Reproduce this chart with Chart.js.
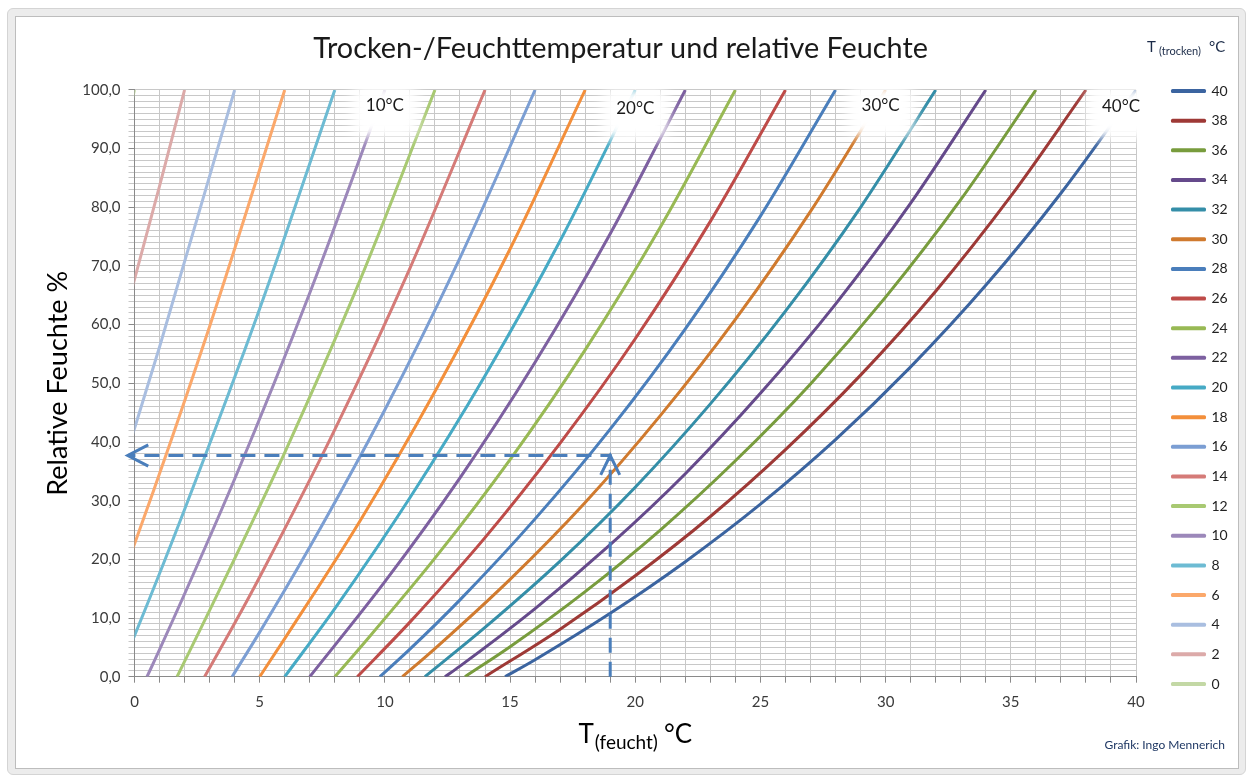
<!DOCTYPE html>
<html lang="de">
<head>
<meta charset="utf-8">
<title>Trocken-/Feuchttemperatur und relative Feuchte</title>
<script src="https://cdn.jsdelivr.net/npm/chart.js@4.4.1/dist/chart.umd.min.js"></script>
<style>
  html, body { margin: 0; padding: 0; background: #fff; }
  #frame {
    position: absolute; left: 7px; top: 8px; width: 1239px; height: 767px;
    box-sizing: border-box; background: #ececec; border: 1px solid #d4d4d4; border-radius: 6px;
  }
  #plot {
    position: absolute; left: 15px; top: 16px; width: 1224px; height: 753px;
    box-sizing: border-box; border: 1px solid #bdbdbd; background: #fff;
  }
  #box { position: relative; width: 1222px; height: 751px; }
</style>
</head>
<body>
<div id="frame"></div>
<div id="plot"><div id="box"><canvas id="chart"></canvas></div></div>
<script>
// dry-bulb temperatures, one curve each (legend order)
const dryTemps = [40, 38, 36, 34, 32, 30, 28, 26, 24, 22, 20, 18, 16, 14, 12, 10, 8, 6, 4, 2, 0];

// wet-bulb temperature (x) along each curve
const wetTemps = [
  [14.8, 16, 19, 22, 25, 28, 31, 34, 37, 40],
  [14.0, 17, 20, 23, 26, 29, 32, 35, 38],
  [13.2, 15, 18, 21, 24, 27, 30, 33, 36],
  [12.4, 13, 16, 19, 22, 25, 28, 31, 34],
  [11.6, 14, 17, 20, 23, 26, 29, 32],
  [10.7, 12, 15, 18, 21, 24, 27, 30],
  [9.8, 11, 13, 16, 19, 22, 25, 28],
  [8.9, 11, 14, 17, 20, 23, 26],
  [8.0, 9, 12, 15, 18, 21, 24],
  [7.0, 10, 13, 16, 19, 22],
  [6.0, 8, 11, 14, 17, 20],
  [5.0, 6, 9, 12, 15, 18],
  [3.9, 5, 7, 10, 13, 16],
  [2.8, 4, 5, 8, 11, 14],
  [1.7, 3, 6, 9, 12],
  [0.5, 1, 4, 7, 10],
  [-0.7, 0, 2, 5, 8],
  [-2.0, 0, 3, 6],
  [-3.2, -2, 0, 1, 4],
  [-4.5, -4, -1, 0, 1, 2],
  [-5.9, -3, 0]
];

// relative humidity (y) at those points
const humidity = [
  [0, 2.9, 10.8, 19.6, 29.4, 40.4, 52.8, 66.7, 82.4, 100],
  [0, 8.1, 17.2, 27.3, 38.7, 51.4, 65.7, 81.9, 100],
  [0, 5.1, 14.5, 25.0, 36.8, 49.9, 64.7, 81.3, 100],
  [0, 1.8, 11.6, 22.5, 34.6, 48.3, 63.5, 80.7, 100],
  [0, 8.4, 19.7, 32.3, 46.5, 62.3, 80.0, 100],
  [0, 4.8, 16.6, 29.7, 44.5, 60.9, 79.3, 100],
  [0, 4.7, 13.1, 26.9, 42.2, 59.3, 78.5, 100],
  [0, 9.3, 23.7, 39.8, 57.6, 77.6, 100],
  [0, 4.9, 20.2, 37.0, 55.7, 76.6, 100],
  [0, 16.2, 33.9, 53.6, 75.5, 100],
  [0, 11.6, 30.5, 51.3, 74.3, 100],
  [0, 6.5, 26.5, 48.6, 72.9, 100],
  [0, 7.6, 22.1, 45.5, 71.4, 100],
  [0, 9.1, 17.0, 42.1, 69.6, 100],
  [0, 11.3, 38.2, 67.5, 100],
  [0, 4.6, 33.7, 65.4, 100],
  [0, 7.0, 28.5, 62.7, 100],
  [0, 22.6, 59.7, 100],
  [0, 15.7, 42.3, 56.2, 100],
  [0, 7.8, 52.1, 67.7, 83.6, 100],
  [0, 47.5, 100]
];

const lineColors = [
  '#3b64a0', '#9e3936', '#789c3d', '#654a8b', '#348ea8', '#d07a2e',
  '#4a7ebb', '#be4b48', '#98b954', '#7d60a0', '#46aac5', '#f38f3b',
  '#7b9ed3', '#d57b78', '#a8c972', '#9c88ba', '#6dbbd3', '#fba86b',
  '#a9bee0', '#dcaaa9', '#c3d8a5'
];

const xTickLabels = [0, 5, 10, 15, 20, 25, 30, 35, 40];
const yTickLabels = [0, 10, 20, 30, 40, 50, 60, 70, 80, 90, 100];

// reading example: dashed guide with arrow heads
const guideX = [19, 19, -0.25];
const guideY = [0, 37.7, 37.7];
const arrowUpX = [18.62, 19, 19.38];
const arrowUpY = [34.4, 37.7, 34.4];
const arrowLeftX = [0.55, -0.27, 0.55];
const arrowLeftY = [39.5, 37.7, 35.9];

// curve labels at the top of the plot
const markText = ['10°C', '20°C', '30°C', '40°C'];
const markX = [10.0, 20.0, 29.8, 39.4];
const markY = [97.4, 96.9, 97.4, 97.1];

const toPoints = (xs, ys) => xs.map((x, i) => ({ x: x, y: ys[i] }));

const datasets = dryTemps.map((t, i) => ({
  label: String(t),
  data: toPoints(wetTemps[i], humidity[i]),
  borderColor: lineColors[i],
  backgroundColor: lineColors[i],
  borderWidth: 3,
  borderJoinStyle: 'round',
  cubicInterpolationMode: 'monotone',
  pointRadius: 0
}));

const guideStyle = { borderColor: '#4a7ebb', backgroundColor: '#4a7ebb', borderWidth: 3, pointRadius: 0, clip: false, order: -1 };
datasets.push(Object.assign({ label: 'guide', data: toPoints(guideX, guideY), borderDash: [15, 9] }, guideStyle));
datasets.push(Object.assign({ label: 'arrowUp', data: toPoints(arrowUpX, arrowUpY) }, guideStyle));
datasets.push(Object.assign({ label: 'arrowLeft', data: toPoints(arrowLeftX, arrowLeftY) }, guideStyle));

const FONT = 'Lato';
const legendWidth = 89;
const legendBoxLeft = 1156.5;

// keep the legend column a fixed width and put its boxes where the original has them
const legendPlace = {
  id: 'legendPlace',
  beforeLayout(chart) {
    const lg = chart.legend;
    if (lg && !lg._fixedWidth) {
      const fit = lg.fit;
      lg.fit = function () { fit.call(this); this.width = legendWidth; };
      lg._fixedWidth = true;
    }
  },
  afterLayout(chart) {
    const lg = chart.legend;
    const dx = legendBoxLeft - (lg.left + lg.options.labels.padding);
    lg.left += dx;
    lg.right += dx;
  }
};

// white glowing labels 10°C ... 40°C
const curveMarks = {
  id: 'curveMarks',
  afterDatasetsDraw(chart) {
    const { ctx, scales } = chart;
    ctx.save();
    markText.forEach((txt, i) => {
      const px = scales.x.getPixelForValue(markX[i]);
      const py = scales.y.getPixelForValue(markY[i]);
      ctx.filter = 'blur(7px)';
      ctx.fillStyle = '#fff';
      ctx.fillRect(px - 32, py - 18, 64, 48);
      ctx.fillRect(px - 26, py - 12, 52, 36);
      ctx.filter = 'none';
      ctx.fillStyle = '#1a1a1a';
      ctx.font = '17px ' + FONT;
      ctx.textAlign = 'center';
      ctx.textBaseline = 'middle';
      ctx.fillText(txt, px, py);
    });
    ctx.restore();
  }
};

// axis title with subscript and the legend heading
const extraTitles = {
  id: 'extraTitles',
  afterDraw(chart) {
    const { ctx, chartArea } = chart;
    ctx.save();
    ctx.textBaseline = 'alphabetic';
    ctx.textAlign = 'left';
    ctx.fillStyle = '#000';

    const big = '26px ' + FONT, small = '19px ' + FONT;
    ctx.font = big; const wT = ctx.measureText('T').width; const wC = ctx.measureText('°C').width;
    ctx.font = small; const wS = ctx.measureText('(feucht)').width;
    const total = wT + 1 + wS + 6 + wC;
    let x = (chartArea.left + chartArea.right) / 2 - total / 2;
    const base = 726;
    ctx.font = big; ctx.fillText('T', x, base); x += wT + 1;
    ctx.font = small; ctx.fillText('(feucht)', x, base + 6); x += wS + 6;
    ctx.font = big; ctx.fillText('°C', x, base);

    ctx.fillStyle = '#1b2b48';
    ctx.font = '15px ' + FONT; ctx.fillText('T', 1131, 34.7);
    ctx.font = '11px ' + FONT; ctx.fillText('(trocken)', 1143, 38);
    ctx.font = '15px ' + FONT; ctx.fillText('°C', 1193, 34.7);
    ctx.restore();
  }
};

const chart = new Chart(document.getElementById('chart'), {
  type: 'line',
  data: { datasets: datasets },
  plugins: [legendPlace, curveMarks, extraTitles],
  options: {
    responsive: true,
    maintainAspectRatio: false,
    animation: false,
    layout: { padding: { left: 0, right: 13, top: 0, bottom: 0 } },
    font: { family: FONT },
    scales: {
      x: {
        type: 'linear',
        min: 0,
        max: 40,
        ticks: {
          stepSize: 1,
          autoSkip: false,
          maxRotation: 0,
          padding: 10,
          color: '#3a3a3a',
          font: { family: FONT, size: 15 },
          callback: v => xTickLabels.includes(v) ? String(v) : ''
        },
        grid: { color: '#c8c8c8', tickLength: 6, tickColor: '#8a8a8a' },
        border: { color: '#8a8a8a' },
        afterFit: s => { s.height = 61.1; }
      },
      y: {
        min: 0,
        max: 100,
        ticks: {
          stepSize: 1,
          autoSkip: false,
          padding: 8,
          color: '#3a3a3a',
          font: { family: FONT, size: 15 },
          callback: v => yTickLabels.includes(v) ? v.toFixed(1).replace('.', ',') : ''
        },
        grid: {
          color: '#c8c8c8',
          tickLength: 6,
          tickColor: c => (c.tick && c.tick.value % 10 === 0) ? '#8a8a8a' : '#c8c8c8'
        },
        border: { color: '#8a8a8a' },
        title: {
          display: true,
          text: 'Relative Feuchte %',
          color: '#000',
          font: { family: FONT, size: 27 },
          padding: { top: 25.8, bottom: 0 }
        },
        afterFit: s => { s.width = 118.5; }
      }
    },
    plugins: {
      title: {
        display: true,
        text: 'Trocken-/Feuchttemperatur und relative Feuchte',
        color: '#1a1a1a',
        font: { family: FONT, size: 28.8, weight: 'normal' },
        padding: { top: 14.7, bottom: 23.7 }
      },
      subtitle: {
        display: true,
        position: 'bottom',
        align: 'end',
        text: 'Grafik: Ingo Mennerich',
        color: '#1f3864',
        font: { family: FONT, size: 12 },
        padding: { top: 0, bottom: 15.8 }
      },
      legend: {
        position: 'right',
        align: 'start',
        title: { display: true, text: ' ', font: { size: 13 }, padding: { top: 15, bottom: 20.75 } },
        labels: {
          boxWidth: 32,
          boxHeight: 1,
          padding: 15.65,
          color: '#222',
          font: { family: FONT, size: 14 },
          filter: item => item.datasetIndex < dryTemps.length
        }
      },
      tooltip: { enabled: false }
    }
  }
});
</script>
</body>
</html>
